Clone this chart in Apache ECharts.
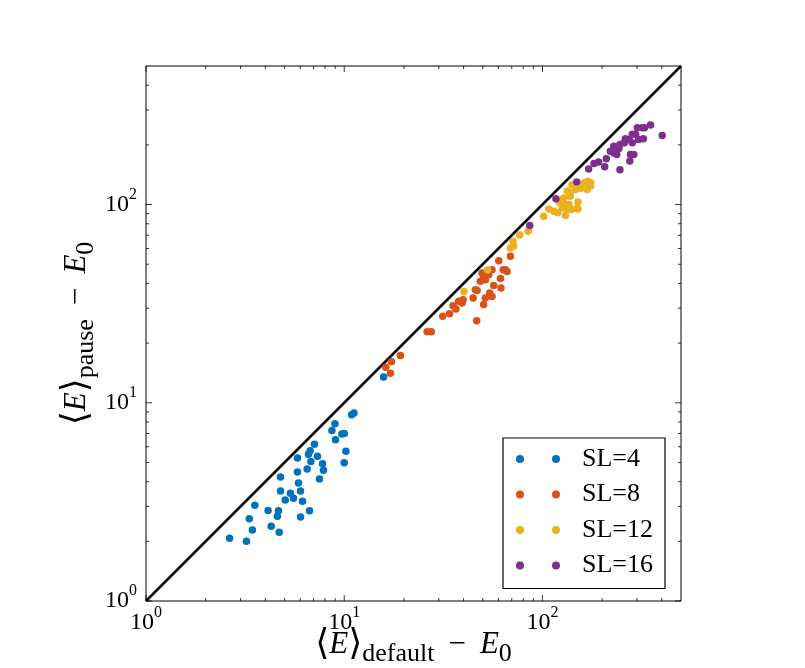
<!DOCTYPE html>
<html>
<head>
<meta charset="utf-8">
<title>pause vs default</title>
<script src="https://cdn.jsdelivr.net/npm/echarts@6/dist/echarts.min.js"></script>
<style>
html, body { margin: 0; padding: 0; background: #fff; }
#chart { width: 805px; height: 668px; }
</style>
</head>
<body>
<div id="chart"></div>
<script>
// values, [default - E0, pause - E0]
var sl4 = [[2.64,2.07],[3.21,2.00],[3.44,2.28],[3.32,2.60],[3.54,3.04],[4.13,2.86],[4.28,2.38],
    [4.70,2.22],[4.60,2.68],[4.66,2.85],[4.77,3.59],[4.77,4.22],[5.04,3.23],[5.35,3.50],[5.55,3.30],
    [6.02,3.59],[6.16,3.19],[6.02,2.65],[6.68,2.85],[5.88,3.94],[5.81,4.47],[5.81,5.26],[6.50,4.64],
    [6.73,5.72],[6.79,5.05],[7.08,6.18],[7.33,5.38],[7.77,4.92],[7.86,4.57],[7.50,4.12],[9.04,6.50],
    [8.67,7.25],[8.98,7.83],[9.73,6.95],[10.0,7.00],[10.2,5.70],[10.0,4.98],[10.9,8.70],[11.2,8.87],
    [6.6,5.5],[15.8,13.5]];
var sl8 = [[16.2,15.1],[17.1,14.1],[17.3,16.1],[19.2,17.3],[26.2,22.8],[27.5,22.8],[31.4,27.3],
    [34.0,28.1],[35.4,30.9],[36.6,29.7],[37.8,32.5],[39.8,33.1],[44.7,33.8],[46.8,36.9],[46.6,25.9],
    [50.5,31.3],[51.5,33.8],[55.7,34.4],[54.2,35.8],[48.6,41.0],[49.6,45.2],[51.5,41.8],[53.6,44.3],
    [56.8,39.0],[61.8,37.9],[61.4,42.3],[63.4,46.9],[66.3,46.0],[60.2,52.1],[68.9,54.8],[55.7,46.9],
    [45.9,37.2],[39.3,31.9],[50.5,43.4],[65.0,46.9]];
var sl12 = [[40.2,36.4],[52.9,46.8],[68.9,60.4],[71.1,65.3],[71.6,61.6],[76.8,70.2],[84.7,73.3],
    [101.5,87.3],[107.6,95.1],[114,92.5],[119.5,90.8],[130.7,88.0],[125.7,96.2],[120.8,104],[133.3,117],
    [141,126],[147,119],[156,121],[169,131],[175,124],[162,129],[151,103],[151,95.1],[136,100],
    [140,94.4],[128,102],[138,110],[123,102],[138,115],[175,129],[168,119],[128,108],[150,96.2],[133,94.4]];
var sl16 = [[86.3,78.3],[117,107],[149,130],[171,151],[182,161],[192,164],[206,155],[210,170],
    [220,186],[229,197],[237,179],[246,150],[246,201],[259,205],[262,215],[273,213],[276,166],
    [278,179],[289,179],[284,205],[295,226],[301,244],[306,213],[323,215],[327,244],[351,252],
    [402,223],[229,182],[284,226],[319,244],[243,191]];
var seriesNames = ['SL=4', 'SL=8', 'SL=12', 'SL=16'];
var seriesColors = ['#0072bd', '#d95319', '#edb120', '#7e2f8e'];
var diagonal = [[1, 1], [500, 500]];
var axisMin = 1, axisMax = 500;
var majorTicks = [1, 10, 100];
var minorTicks = [2, 3, 4, 5, 6, 7, 8, 9, 20, 30, 40, 50, 60, 70, 80, 90, 200, 300, 400];

var serif = '"Liberation Serif", "DejaVu Serif", serif';

function powLabel(v) {
    var e = Math.log10(v);
    var r = Math.round(e);
    if (Math.abs(e - r) > 1e-6) return '';
    return '{b|10}{s|' + r + '}';
}
var labelRich = {
    b: { fontFamily: serif, fontSize: 24, lineHeight: 36, color: '#000' },
    s: { fontFamily: serif, fontSize: 16, lineHeight: 16, verticalAlign: 'top', color: '#000' }
};
var nameRich = {
    k: { fontFamily: serif, fontSize: 36, lineHeight: 44, color: '#000' },
    m: { fontFamily: serif, fontSize: 31, lineHeight: 44, color: '#000', padding: [0, 14, 0, 14] },
    i: { fontFamily: serif, fontSize: 31, lineHeight: 44, fontStyle: 'italic', color: '#000' },
    s: { fontFamily: serif, fontSize: 26, lineHeight: 24, verticalAlign: 'bottom', color: '#000' }
};

// ticks drawn inward on all four sides
function tickSeries(values, side, len) {
    var data = values.map(function (v) {
        if (side === 'bottom') return [v, axisMin];
        if (side === 'top') return [v, axisMax];
        if (side === 'left') return [axisMin, v];
        return [axisMax, v];
    });
    var horiz = side === 'bottom' || side === 'top';
    var offset = side === 'bottom' ? [0, -len / 2] : side === 'top' ? [0, len / 2]
        : side === 'left' ? [len / 2, 0] : [-len / 2, 0];
    return {
        type: 'scatter', data: data, symbol: 'rect',
        symbolSize: horiz ? [1, len] : [len, 1], symbolOffset: offset,
        itemStyle: { color: '#000' }, silent: true, clip: false, z: 3, animation: false
    };
}

var myChart = echarts.init(document.getElementById('chart'));
var series = [{
    type: 'line', data: diagonal, symbol: 'none', silent: true, z: 1,
    lineStyle: { color: '#000', width: 2.5 }, animation: false
}];
[sl4, sl8, sl12, sl16].forEach(function (d, i) {
    series.push({
        name: seriesNames[i], type: 'scatter', data: d, symbolSize: 7.5, z: 2,
        itemStyle: { color: seriesColors[i], opacity: 1 }, animation: false
    });
});
['bottom', 'top', 'left', 'right'].forEach(function (side) {
    series.push(tickSeries(majorTicks, side, 6));
    series.push(tickSeries(minorTicks, side, 3));
});

var option = {
    backgroundColor: '#fff',
    grid: {
        left: 146, top: 66, right: 124, bottom: 67, containLabel: false, outerBoundsMode: 'none',
        show: true, borderColor: '#000', borderWidth: 1
    },
    legend: {
        data: seriesNames, orient: 'vertical', left: 503, top: 438, z: 10,
        padding: [8, 12, 10, 13], itemGap: 9.5, itemWidth: 44, itemHeight: 8,
        icon: 'path://M0,4A4,4,0,1,1,8,4A4,4,0,1,1,0,4ZM36,4A4,4,0,1,1,44,4A4,4,0,1,1,36,4Z',
        borderColor: '#000', borderWidth: 1.2, backgroundColor: '#fff', borderRadius: 0,
        selectedMode: false,
        textStyle: { fontFamily: serif, fontSize: 26, color: '#000', padding: [0, 0, 0, 17] }
    },
    xAxis: {
        type: 'log', logBase: 10, min: axisMin, max: axisMax,
        name: '{k|⟨}{i|E}{k|⟩}{s|default}{m|−}{i|E}{s|0}',
        nameLocation: 'middle', nameGap: 22, nameMoveOverlap: false, nameTextStyle: { rich: nameRich },
        axisLine: { show: false }, axisTick: { show: false }, splitLine: { show: false },
        axisLabel: { formatter: powLabel, rich: labelRich, margin: 4 }
    },
    yAxis: {
        type: 'log', logBase: 10, min: axisMin, max: axisMax,
        name: '{k|⟨}{i|E}{k|⟩}{s|pause}{m|−}{i|E}{s|0}',
        nameLocation: 'middle', nameGap: 47, nameMoveOverlap: false, nameTextStyle: { rich: nameRich },
        axisLine: { show: false }, axisTick: { show: false }, splitLine: { show: false },
        axisLabel: { formatter: powLabel, rich: labelRich, margin: 9 }
    },
    series: series
};
myChart.setOption(option);
</script>
</body>
</html>
